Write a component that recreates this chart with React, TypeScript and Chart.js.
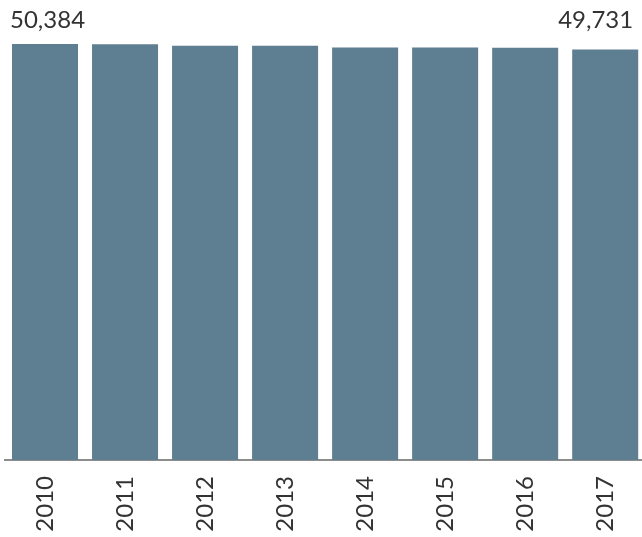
import React, { useEffect, useRef } from "react";
import { Chart, registerables } from "chart.js";

Chart.register(...registerables);

const years = ["2010", "2011", "2012", "2013", "2014", "2015", "2016", "2017"];
const values = [50384, 50350, 50180, 50170, 49960, 49950, 49940, 49731];
const labelledIndexes = [0, values.length - 1];

const BAR_COLOR = "#5e7e91";
const TEXT_COLOR = "#333333";
const FONT_FAMILY = "Lato, 'DejaVu Sans', sans-serif";

const fmt = (v: number) => v.toLocaleString("en-US");

const valueLabels = {
  id: "valueLabels",
  afterDatasetsDraw(chart: any) {
    const ctx = chart.ctx;
    const meta = chart.getDatasetMeta(0);
    const area = chart.chartArea;
    ctx.save();
    ctx.font = `24px ${FONT_FAMILY}`;
    ctx.fillStyle = TEXT_COLOR;
    ctx.textBaseline = "alphabetic";
    labelledIndexes.forEach((i, k) => {
      const bar: any = meta.data[i];
      const left = bar.x - bar.width / 2;
      const right = bar.x + bar.width / 2;
      if (k === 0) {
        ctx.textAlign = "left";
        ctx.fillText(fmt(values[i]), left - 2, area.top - 16.5);
      } else {
        ctx.textAlign = "right";
        ctx.fillText(fmt(values[i]), right - 5, area.top - 16);
      }
    });
    ctx.restore();
  },
};

export default function App() {
  const ref = useRef<HTMLCanvasElement | null>(null);

  useEffect(() => {
    if (!ref.current) return;
    const chart = new Chart(ref.current, {
      type: "bar",
      data: {
        labels: years,
        datasets: [
          {
            data: values,
            backgroundColor: BAR_COLOR,
            borderWidth: 0,
            categoryPercentage: 0.825,
            barPercentage: 1,
          },
        ],
      },
      options: {
        responsive: false,
        animation: false,
        devicePixelRatio: 1,
        layout: { padding: { left: 5, right: 0, top: 44, bottom: 0 } },
        plugins: {
          legend: { display: false },
          tooltip: { enabled: false },
        },
        scales: {
          x: {
            grid: { display: false, drawTicks: false },
            border: { display: true, color: "#8c8c8c", width: 2 },
            ticks: {
              color: TEXT_COLOR,
              font: { family: FONT_FAMILY, size: 24 },
              minRotation: 90,
              maxRotation: 90,
              padding: 16,
              autoSkip: false,
            },
            afterFit: (scale: any) => {
              scale.height = 77;
            },
          },
          y: {
            display: false,
            min: 0,
            max: 50384,
          },
        },
      },
      plugins: [valueLabels],
    });
    return () => chart.destroy();
  }, []);

  return (
    <div
      style={{
        position: "absolute",
        left: 0,
        top: 0,
        width: 642,
        height: 537,
        overflow: "hidden",
        background: "#ffffff",
      }}
    >
      <canvas ref={ref} width={650} height={537} style={{ display: "block" }} />
    </div>
  );
}
